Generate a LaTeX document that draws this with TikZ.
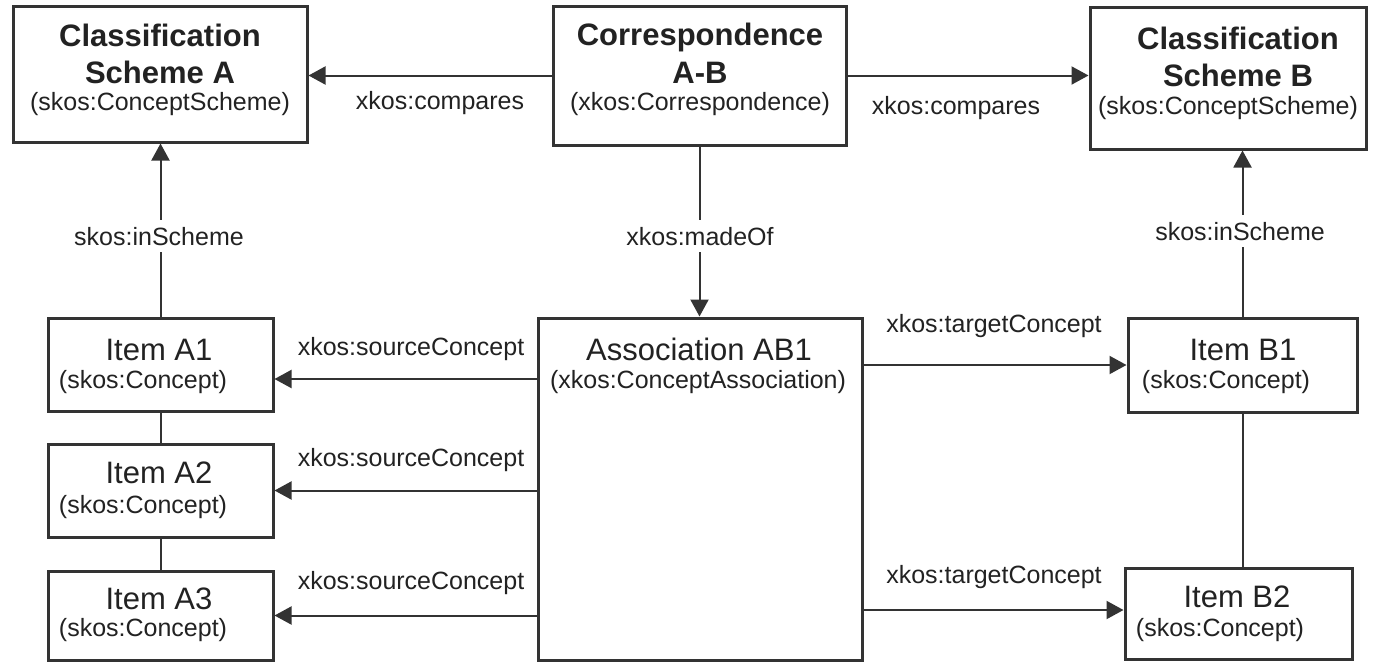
\documentclass[tikz,border=0pt]{standalone}
\usepackage{fontspec}
\setmainfont{Liberation Sans}
\usetikzlibrary{arrows.meta}
\definecolor{ink}{HTML}{222222}
\definecolor{edgecol}{HTML}{333333}
\begin{document}
\begin{tikzpicture}[x=1pt,y=-1pt,
  box/.style={draw=edgecol, line width=3pt, fill=white, inner sep=0pt},
  ttl/.style={font=\fontsize{31}{31}\bfseries\selectfont, text=ink, anchor=base, inner sep=0pt},
  itm/.style={font=\fontsize{31}{31}\selectfont, text=ink, anchor=base, inner sep=0pt},
  sub/.style={font=\fontsize{25}{25}\selectfont, text=ink, anchor=base, inner sep=0pt},
  lbl/.style={font=\fontsize{25}{25}\selectfont, text=ink, anchor=base, fill=white, inner sep=1pt},
  vlbl/.style={lbl, inner xsep=3pt, inner ysep=7pt},
  con/.style={draw=edgecol, line width=2pt},
  arr/.style={con, -{Triangle[length=17pt,width=18pt]}}]
\useasboundingbox (0,0) rectangle (1373,662);

% boxes
\node[box, minimum width=294pt, minimum height=136pt] (sA) at (160,74) {};
\node[box, minimum width=293pt, minimum height=139pt] (corr) at (699.5,75.5) {};
\node[box, minimum width=276pt, minimum height=142pt] (sB) at (1228,78) {};
\node[box, minimum width=225pt, minimum height=93pt] (a1) at (160.5,364.5) {};
\node[box, minimum width=225pt, minimum height=93pt] (a2) at (160.5,490.5) {};
\node[box, minimum width=225pt, minimum height=89pt] (a3) at (160.5,615.5) {};
\node[box, minimum width=324pt, minimum height=342pt] (assoc) at (700,489) {};
\node[box, minimum width=229pt, minimum height=94pt] (b1) at (1242.5,365) {};
\node[box, minimum width=227pt, minimum height=91pt] (b2) at (1238.5,613.5) {};

% box texts
\node[ttl] (sAt1) at (160,46) {Classification};
\node[ttl] (sAt2) at (160,83) {Scheme A};
\node[sub] (sAt3) at (160,110) {(skos:ConceptScheme)};
\node[ttl] (corrt1) at (700,45) {Correspondence};
\node[ttl] (corrt2) at (700,83) {A-B};
\node[sub] (corrt3) at (700,110) {(xkos:Correspondence)};
\node[ttl] (sBt1) at (1238,49) {Classification};
\node[ttl] (sBt2) at (1238,86) {Scheme B};
\node[sub] (sBt3) at (1228,114) {(skos:ConceptScheme)};
\node[itm] (a1t1) at (159,360) {Item A1};
\node[sub] (a1t2) at (143,388) {(skos:Concept)};
\node[itm] (a2t1) at (159,483) {Item A2};
\node[sub] (a2t2) at (143,513) {(skos:Concept)};
\node[itm] (a3t1) at (159,609) {Item A3};
\node[sub] (a3t2) at (143,636) {(skos:Concept)};
\node[itm] (abt1) at (699,360) {Association AB1};
\node[sub] (abt2) at (698,388) {(xkos:ConceptAssociation)};
\node[itm] (b1t1) at (1243,360) {Item B1};
\node[sub] (b1t2) at (1226,388) {(skos:Concept)};
\node[itm] (b2t1) at (1237,607) {Item B2};
\node[sub] (b2t2) at (1220,636) {(skos:Concept)};

% connectors
\draw[arr] (corr.west) -- (corr.west -| sA.east);
\draw[arr] (corr.east) -- (corr.east -| sB.west);
\draw[arr] (corr.south) -- (corr.south |- assoc.north);
\draw[arr] (a1.north) -- (a1.north |- sA.south);
\draw[con] (a1.south) -- (a2.north);
\draw[con] (a2.south) -- (a3.north);
\draw[arr] (b1.north) -- (b1.north |- sB.south);
\draw[con] (b1.south) -- (b1.south |- b2.north);
\coordinate (s1) at (538,379);
\draw[arr] (assoc.west |- s1) -- (a1.east |- s1);
\draw[arr] (assoc.west |- a2.east) -- (a2.east);
\draw[arr] (assoc.west |- a3.east) -- (a3.east);
\coordinate (t2) at (862,610);
\draw[arr] (assoc.east |- b1.west) -- (b1.west);
\draw[arr] (assoc.east |- t2) -- (b2.west |- t2);

% connector labels
\node[lbl] (lcA) at (440,109) {xkos:compares};
\node[lbl] (lcB) at (956,114) {xkos:compares};
\node[vlbl] (lmo) at (700,245) {xkos:madeOf};
\node[vlbl] (liA) at (159,245) {skos:inScheme};
\node[vlbl] (liB) at (1240,240) {skos:inScheme};
\node[lbl] (ls1) at (411,355) {xkos:sourceConcept};
\node[lbl] (ls2) at (411,466) {xkos:sourceConcept};
\node[lbl] (ls3) at (411,589) {xkos:sourceConcept};
\node[lbl] (lt1) at (994,332) {xkos:targetConcept};
\node[lbl] (lt2) at (994,583) {xkos:targetConcept};
\end{tikzpicture}
\end{document}
